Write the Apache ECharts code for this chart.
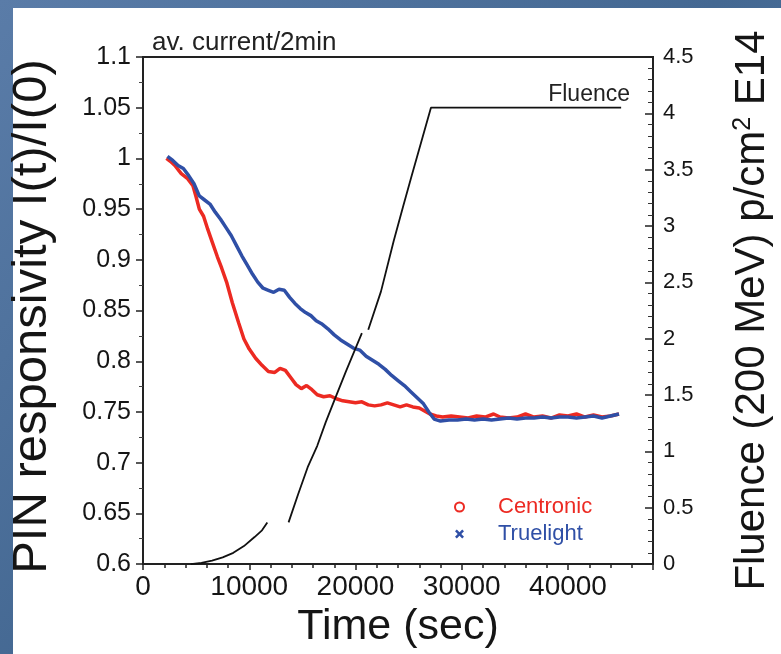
<!DOCTYPE html>
<html>
<head>
<meta charset="utf-8">
<script src="https://cdn.jsdelivr.net/npm/echarts@6/dist/echarts.min.js"></script>
<style>
html,body{margin:0;padding:0;width:781px;height:654px;overflow:hidden;}
body{background:linear-gradient(135deg,#5a7ca8 0%,#446892 50%,#527aa6 100%);position:relative;}
#panel{position:absolute;left:13px;top:8px;width:768px;height:646px;background:#fff;}
#chart{position:absolute;left:0;top:0;width:781px;height:654px;}
</style>
</head>
<body>
<div id="panel"></div>
<div id="chart"></div>
<script>
// Time axis ticks (sec)
const timeTicks = [0, 10000, 20000, 30000, 40000];
// Left axis ticks (responsivity)
const respTicks = [0.6, 0.65, 0.7, 0.75, 0.8, 0.85, 0.9, 0.95, 1, 1.05, 1.1];
// Right axis ticks (fluence, E14 p/cm2)
const fluenceTicks = [0, 0.5, 1, 1.5, 2, 2.5, 3, 3.5, 4, 4.5];

// Centronic
const centronicTime = [2200,2600,3000,3600,4200,4700,5000,5300,5700,6100,6500,7000,7400,7900,8400,9000,9500,10000,10600,11200,11800,12400,12900,13400,13900,14400,14900,15400,15900,16400,17000,17600,18200,18800,19400,20000,20600,21200,21800,22400,23000,23600,24200,24800,25400,26000,26500,27000,27600,28200,29000,29800,30600,31400,32200,33000,33600,34400,35200,36000,36800,37600,38400,39200,40000,40800,41600,42400,43200,44000,44800];
const centronicValue = [1.000,0.997,0.993,0.985,0.980,0.973,0.962,0.950,0.943,0.930,0.918,0.903,0.892,0.877,0.858,0.838,0.822,0.812,0.803,0.796,0.790,0.789,0.793,0.791,0.784,0.777,0.773,0.776,0.772,0.767,0.765,0.766,0.763,0.761,0.760,0.759,0.760,0.757,0.756,0.757,0.759,0.757,0.755,0.757,0.755,0.754,0.751,0.748,0.746,0.745,0.746,0.745,0.744,0.746,0.745,0.748,0.745,0.744,0.745,0.748,0.745,0.746,0.744,0.747,0.746,0.748,0.745,0.747,0.745,0.746,0.748];

// Truelight
const truelightTime = [2300,2800,3300,3800,4300,4800,5300,5800,6300,6800,7300,7800,8300,8800,9300,9800,10300,10800,11300,11800,12300,12800,13300,13800,14300,14800,15300,15800,16300,16800,17400,18000,18600,19200,19800,20400,21000,21600,22200,22800,23400,24000,24600,25200,25800,26400,26900,27400,28000,28800,29600,30400,31200,32000,32800,33600,34400,35200,36000,36800,37600,38400,39200,40000,40800,41600,42400,43200,44000,44800];
const truelightValue = [1.002,0.998,0.993,0.990,0.983,0.975,0.963,0.959,0.955,0.947,0.940,0.932,0.924,0.914,0.904,0.895,0.886,0.878,0.872,0.870,0.868,0.871,0.870,0.863,0.857,0.852,0.848,0.845,0.840,0.837,0.832,0.826,0.821,0.817,0.813,0.811,0.805,0.801,0.797,0.792,0.786,0.781,0.776,0.770,0.764,0.758,0.750,0.743,0.741,0.742,0.742,0.743,0.742,0.743,0.742,0.743,0.744,0.743,0.744,0.744,0.745,0.744,0.745,0.745,0.744,0.745,0.746,0.744,0.746,0.748];

// Fluence (null = no data / gap)
const fluenceTime = [4500,5500,6500,7500,8500,9500,10500,11200,11700,12700,13700,14600,15500,16400,17200,18000,19100,20600,20900,21200,22400,23600,24500,25300,26500,27100,45000];
const fluenceValue = [0,0.01,0.03,0.06,0.10,0.16,0.24,0.30,0.37,null,0.37,0.62,0.86,1.05,1.26,1.45,1.71,2.05,null,2.08,2.42,2.87,3.18,3.45,3.85,4.05,4.05];

const zip = (a, b) => a.map((t, i) => [t, b[i]]);

const RED = '#ec2a22';
const BLUE = '#2f4fa6';
const INK = '#151515';
const FONT = '"Liberation Sans", Arial, Helvetica, sans-serif';

const chart = echarts.init(document.getElementById('chart'), null, {renderer: 'canvas'});
chart.setOption({
  backgroundColor: 'transparent',
  animation: false,
  textStyle: {fontFamily: FONT},
  grid: {left: 141, right: 118, top: 57, bottom: 71, show: true, borderColor: '#222', borderWidth: 2, backgroundColor: 'transparent'},
  legend: {
    left: 449, top: 491, orient: 'vertical', itemGap: 5, itemWidth: 9, itemHeight: 9,
    textStyle: {fontSize: 22, fontFamily: FONT},
    data: [
      {name: 'Centronic', icon: 'circle', itemStyle: {color: '#fff', borderColor: RED, borderWidth: 2}, textStyle: {color: RED, padding: [0,0,0,29]}},
      {name: 'Truelight', icon: 'path://M0,2L2,0L5,3L8,0L10,2L7,5L10,8L8,10L5,7L2,10L0,8L3,5Z', itemStyle: {color: BLUE}, textStyle: {color: BLUE, padding: [0,0,0,29]}}
    ]
  },
  xAxis: {
    type: 'value', min: 0, max: 48000, interval: 10000,
    name: 'Time (sec)', nameLocation: 'middle', nameGap: 33,
    nameTextStyle: {fontSize: 43, color: INK, fontFamily: FONT},
    axisLine: {show: true, onZero: false, lineStyle: {color: '#222', width: 2}},
    axisTick: {show: true, inside: false, length: 6, lineStyle: {color: '#222', width: 1.5}},
    minorTick: {show: true, splitNumber: 5, length: 4, lineStyle: {color: '#222', width: 1.5}},
    axisLabel: {fontSize: 28, color: INK, margin: 9, fontFamily: FONT,
      formatter: v => timeTicks.includes(v) ? String(v) : ''},
    splitLine: {show: false}
  },
  yAxis: [
    {
      type: 'value', min: 0.6, max: 1.1, interval: 0.05, position: 'left',
      name: 'PIN responsivity I(t)/I(0)', nameLocation: 'middle', nameRotate: 90, nameGap: 86,
      nameTextStyle: {fontSize: 49, color: INK, fontFamily: FONT, padding: [0, 12, 0, 0]},
      axisLine: {show: true, lineStyle: {color: '#222', width: 2}},
      axisTick: {show: true, inside: false, length: 7, lineStyle: {color: '#222', width: 1.5}},
      minorTick: {show: true, splitNumber: 2, length: 4, lineStyle: {color: '#444', width: 1}},
      axisLabel: {fontSize: 25, color: INK, margin: 12, fontFamily: FONT,
        formatter: v => { const r = Math.round(v * 100) / 100; return respTicks.includes(r) ? String(r) : ''; }},
      splitLine: {show: false}
    },
    {
      type: 'value', min: 0, max: 4.5, interval: 0.5, position: 'right',
      name: 'Fluence (200 MeV) p/cm{sup|2} E14', nameLocation: 'middle', nameRotate: 90, nameGap: 78,
      nameTextStyle: {fontSize: 42, color: INK, fontFamily: FONT,
        rich: {sup: {fontSize: 25, verticalAlign: 'top', padding: [0,0,16,0], fontFamily: FONT, color: INK}}},
      axisLine: {show: true, lineStyle: {color: '#222', width: 2}},
      axisTick: {show: true, inside: true, length: 8, lineStyle: {color: '#222', width: 1.5}},
      minorTick: {show: true, splitNumber: 5, length: 5, lineStyle: {color: '#333', width: 1}},
      axisLabel: {fontSize: 22, color: INK, margin: 10, fontFamily: FONT,
        formatter: v => { const r = Math.round(v * 10) / 10; return fluenceTicks.includes(r) ? String(r) : ''; }},
      splitLine: {show: false}
    }
  ],
  graphic: [
    {type: 'text', left: 152, top: 30, style: {text: 'av. current/2min', fontSize: 26, fill: '#222', fontFamily: FONT}},
    {type: 'text', right: 151, top: 83, style: {text: 'Fluence', fontSize: 23, fill: '#222', fontFamily: FONT}}
  ],
  series: [
    {name: 'Centronic', type: 'line', yAxisIndex: 0, data: zip(centronicTime, centronicValue),
      showSymbol: false, symbol: 'none', lineStyle: {color: RED, width: 3.5}, itemStyle: {color: RED}, z: 2},
    {name: 'Truelight', type: 'line', yAxisIndex: 0, data: zip(truelightTime, truelightValue),
      showSymbol: false, symbol: 'none', lineStyle: {color: BLUE, width: 3.5}, itemStyle: {color: BLUE}, z: 3},
    {name: 'Fluence', type: 'line', yAxisIndex: 1, data: zip(fluenceTime, fluenceValue),
      showSymbol: false, symbol: 'none', connectNulls: false, lineStyle: {color: '#111', width: 1.8}, z: 4}
  ]
});
</script>
</body>
</html>
